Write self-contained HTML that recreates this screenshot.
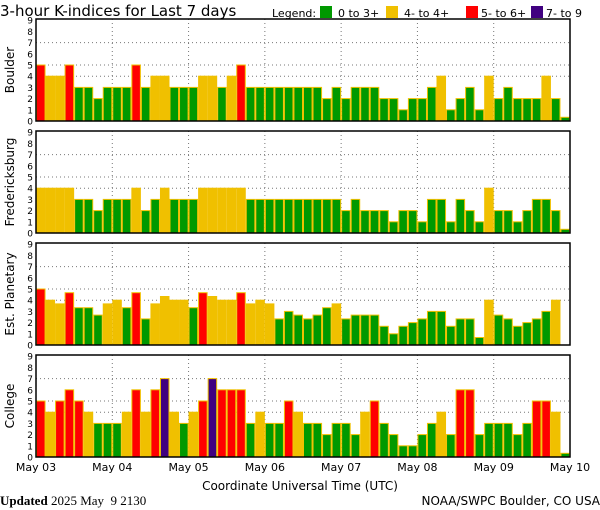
<!DOCTYPE html>
<html><head><meta charset="utf-8">
<style>
html,body{margin:0;padding:0;background:#fff;}
svg{display:block;font-family:"DejaVu Sans","Liberation Sans",sans-serif;}
</style></head>
<body>
<svg id="chart" width="600" height="510" viewBox="0 0 600 510" xmlns="http://www.w3.org/2000/svg">
<text x="0" y="16" font-size="15" fill="#000">3-hour K-indices for Last 7 days</text>
<g font-size="11" fill="#000">
<text x="272" y="17">Legend:</text>
<rect x="320" y="6" width="12" height="12" fill="#009900"/>
<text x="338" y="17">0 to 3+</text>
<rect x="386" y="6" width="12" height="12" fill="#f0c000"/>
<text x="404" y="17">4- to 4+</text>
<rect x="466" y="6" width="12" height="12" fill="#ff0000"/>
<text x="481" y="17">5- to 6+</text>
<rect x="531" y="6" width="12" height="12" fill="#400080"/>
<text x="546" y="17">7- to 9</text>
</g>
<g id="panels"></g>
<text x="300" y="490" font-size="12" text-anchor="middle">Coordinate Universal Time (UTC)</text>
<text x="0" y="505" font-size="13" font-family="'Liberation Serif',serif" style="white-space:pre"><tspan font-weight="bold">Updated</tspan> 2025 May  9 2130</text>
<text x="600" y="505" font-size="12" text-anchor="end">NOAA/SWPC Boulder, CO USA</text>
</svg>
<script>
const stations = ["Boulder","Fredericksburg","Est. Planetary","College"];
const dayLabels = ["May 03","May 04","May 05","May 06","May 07","May 08","May 09","May 10"];
const yTicks = [0,1,2,3,4,5,6,7,8,9];
const gridLevels = [4,5,7];
const boulder = [5,4,4,5,3,3,2,3,3,3,5,3,4,4,3,3,3,4,4,3,4,5,3,3,3,3,3,3,3,3,2,3,2,3,3,3,2,2,1,2,2,3,4,1,2,3,1,4,2,3,2,2,2,4,2,0.33];
const fredericksburg = [4,4,4,4,3,3,2,3,3,3,4,2,3,4,3,3,3,4,4,4,4,4,3,3,3,3,3,3,3,3,3,3,2,3,2,2,2,1,2,2,1,3,3,1,3,2,1,4,2,2,1,2,3,3,2,0.33];
const planetary = [5,4,3.67,4.67,3.33,3.33,2.67,3.67,4,3.33,4.67,2.33,3.67,4.33,4,4,3.33,4.67,4.33,4,4,4.67,3.67,4,3.67,2.33,3,2.67,2.33,2.67,3.33,3.67,2.33,2.67,2.67,2.67,1.67,1,1.67,2,2.33,3,3,1.67,2.33,2.33,0.67,4,2.67,2.33,1.67,2,2.33,3,4,0];
const college = [5,4,5,6,5,4,3,3,3,4,6,4,6,7,4,3,4,5,7,6,6,6,3,4,3,3,5,4,3,3,2,3,3,2,4,5,3,2,1,1,2,3,4,2,6,6,2,3,3,3,2,3,5,5,4,0.33];
const series = [boulder,fredericksburg,planetary,college];

const NS="http://www.w3.org/2000/svg";
const X0=36, X1=570, NB=56, UNIT=11.2;
const panelTops=[19,131,243,355], PH=102;
function xScale(i){return X0+(X1-X0)*i/NB;}
function yScale(v,bottom){return bottom-v*UNIT;}
function color(v){return v>=6.67?"#400080":v>=4.67?"#ff0000":v>=3.67?"#f0c000":"#009900";}
function mk(tag,attrs,parent){const e=document.createElementNS(NS,tag);for(const k in attrs)e.setAttribute(k,attrs[k]);parent.appendChild(e);return e;}
const root=document.getElementById("panels");
series.forEach((data,p)=>{
  const top=panelTops[p], bottom=top+PH;
  const g=mk("g",{},root);
  
  
  const lab=mk("text",{x:14,y:(top+bottom)/2,"font-size":"12","text-anchor":"middle",transform:`rotate(-90 14 ${(top+bottom)/2})`},g);
  lab.textContent=stations[p];
  
  
  yTicks.forEach(t=>{
    const tt=mk("text",{x:33,y:yScale(t,bottom)+3.5,"font-size":"9","text-anchor":"end"},g);
    tt.textContent=t;
    
    
  });
  gridLevels.forEach(l=>{
    const ln=mk("line",{x1:X0,x2:X1,y1:yScale(l,bottom),y2:yScale(l,bottom),stroke:"#777","stroke-dasharray":"1,3"},g);
    
    
  });
  for(let d=1;d<7;d++){
    const x=xScale(d*8);
    const ln=mk("line",{x1:x,x2:x,y1:top,y2:bottom,stroke:"#777","stroke-dasharray":"1,3"},g);
    
    
  }
  data.forEach((v,i)=>{
    if(v<=0)return;
    const x=xScale(i), w=xScale(i+1)-x, y=yScale(v,bottom);
    const r=mk("rect",{x:x+0.5,y:y,width:w-1,height:bottom-y,fill:color(v),stroke:"#f0c000","stroke-width":"1"},g);
    
    
  });
  const fr=mk("rect",{x:X0,y:top,width:X1-X0,height:PH,fill:"none",stroke:"#000","stroke-width":"1.5"},g);
  
  
});
dayLabels.forEach((d,i)=>{
  const t=mk("text",{x:xScale(i*8),y:471,"font-size":"11","text-anchor":"middle"},root);
  t.textContent=d;
  
  
});
</script>
</body></html>
